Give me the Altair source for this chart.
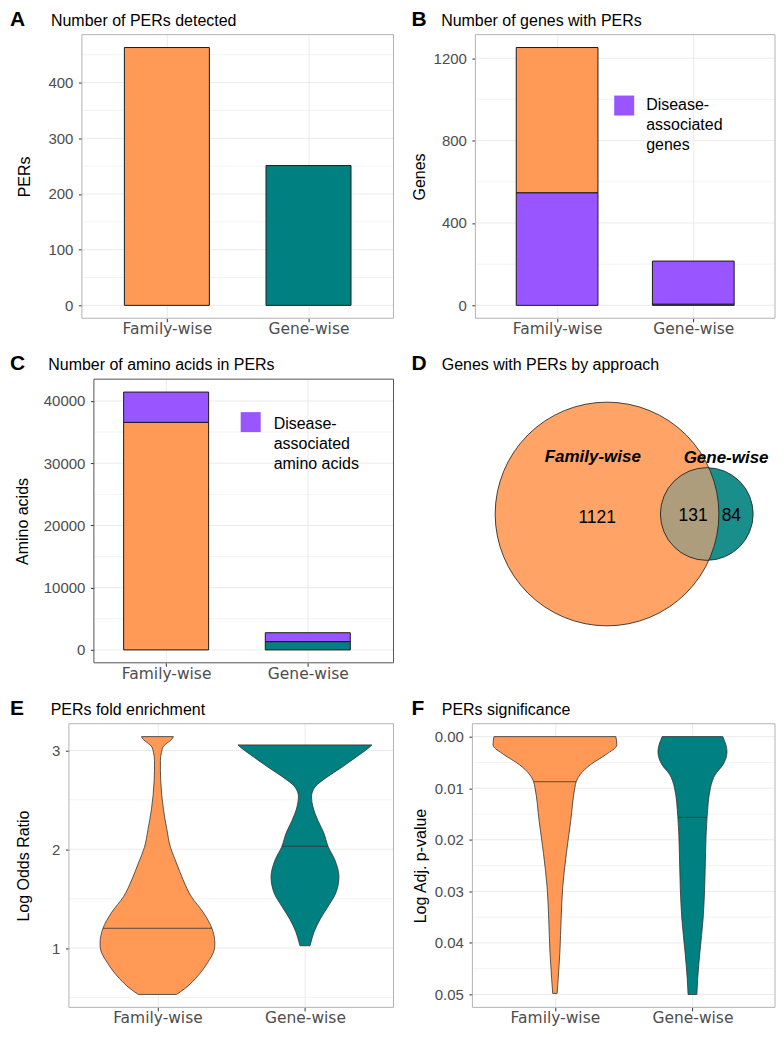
import altair as alt
import numpy as np
import pandas as pd

# ------------------------------------------------------------------ data
approaches = ["Family-wise", "Gene-wise"]
approach_pos = [1, 2]

# A - number of PERs detected
pers_detected = [463, 251]

# B - genes with PERs (stacked bottom -> top)
genes_fam_segments = ["Disease-associated genes", "Family-wise"]
genes_fam_values = [547, 705]
genes_gene_segments = ["Gene-wise", "Disease-associated genes"]
genes_gene_values = [6, 209]
genes_legend_lines = ["Disease-", "associated", "genes"]

# C - amino acids in PERs (stacked bottom -> top)
aa_fam_segments = ["Family-wise", "Disease-associated amino acids"]
aa_fam_values = [36571, 4859]
aa_gene_segments = ["Gene-wise", "Disease-associated amino acids"]
aa_gene_values = [1333, 1429]
aa_legend_lines = ["Disease-", "associated", "amino acids"]

# D - Venn counts
venn_sets = ["Family-wise", "Gene-wise"]
venn_only = [1121, 84]
venn_shared = 131

# E - violin profiles: value and half-width (fraction of category spacing)
e_fam_value = [0.53, 0.59, 0.69, 0.85, 0.99, 1.05, 1.20, 1.36, 1.52, 1.69, 1.86, 2.02,
               2.20, 2.40, 2.55, 2.70, 2.80, 2.90, 2.98, 3.04, 3.08, 3.11, 3.14]
e_fam_halfwidth = [0.129, 0.186, 0.257, 0.339, 0.386, 0.389, 0.369, 0.311, 0.230, 0.174, 0.129, 0.088,
                   0.064, 0.041, 0.029, 0.022, 0.020, 0.020, 0.027, 0.040, 0.070, 0.095, 0.108]
e_gene_value = [1.023, 1.10, 1.16, 1.29, 1.42, 1.56, 1.72, 1.89, 2.03, 2.16, 2.29, 2.43,
                2.53, 2.63, 2.73, 2.83, 2.96, 3.00, 3.056]
e_gene_halfwidth = [0.034, 0.048, 0.061, 0.102, 0.156, 0.210, 0.230, 0.203, 0.156, 0.129, 0.088, 0.054,
                    0.044, 0.068, 0.149, 0.250, 0.372, 0.410, 0.454]
e_median = [1.20, 2.03]
e_median_halfwidth = [0.369, 0.156]

# F - violin profiles
f_fam_value = [0.0, 0.0016, 0.0035, 0.0054, 0.0073, 0.0087, 0.0099, 0.0163, 0.0227,
               0.0291, 0.0354, 0.0418, 0.0469, 0.0498]
f_fam_halfwidth = [0.443, 0.450, 0.370, 0.260, 0.185, 0.155, 0.145, 0.115, 0.083,
                   0.057, 0.045, 0.036, 0.024, 0.016]
f_gene_value = [0.0, 0.0029, 0.0054, 0.0073, 0.0099, 0.0157, 0.0227, 0.0291, 0.0354,
                0.0418, 0.0469, 0.0500]
f_gene_halfwidth = [0.220, 0.251, 0.223, 0.167, 0.131, 0.106, 0.095, 0.089, 0.077,
                    0.054, 0.038, 0.032]
f_median = [0.00875, 0.01565]
f_median_halfwidth = [0.155, 0.106]

# axis ticks
a_ticks, a_minor = [0, 100, 200, 300, 400], [50, 150, 250, 350, 450]
b_ticks, b_minor = [0, 400, 800, 1200], [200, 600, 1000]
c_ticks, c_minor = [0, 10000, 20000, 30000, 40000], [5000, 15000, 25000, 35000]
e_ticks, e_minor = [1, 2, 3], [0.5, 1.5, 2.5]
f_ticks = [0, 0.01, 0.02, 0.03, 0.04, 0.05]
f_minor = [0.005, 0.015, 0.025, 0.035, 0.045]

# ------------------------------------------------------------------ style / layout constants
FONT = "Liberation Sans"
XFONT = "DejaVu Sans"
ORANGE, TEAL, PURPLE = "#FF9955", "#008080", "#9955FF"
V_ORANGE, V_TEAL, V_BOTH = "#FFA366", "#1A8E8A", "#AD9D7D"
GRID = "#EBEBEB"
FRAME = "#B3B3B3"
INK = "#333333"
BAR_HALF = 0.3
PLOT_H = 284
COL_W = [325, 303]          # plot-area width of left / right column
LETTER_X = [-59, -61]       # panel letter offset, left / right column

COLOR_DOMAIN = approaches + ["Disease-associated genes", "Disease-associated amino acids"]
COLOR_RANGE = [ORANGE, TEAL, PURPLE, PURPLE]

label_expr = "[" + ",".join("'%s'" % a for a in approaches) + "][round(datum.value) - 1]"


def color_enc(field):
    return alt.Color(field, type="nominal",
                     scale=alt.Scale(domain=COLOR_DOMAIN, range=COLOR_RANGE), legend=None)


def expand(lo, hi, frac=0.05):
    d = (hi - lo) * frac
    return [lo - d, hi + d]


class Panel:
    """Plot-area geometry: the framed panel may start `inset` px right of the plot-area edge."""

    def __init__(self, frame_dom, width, inset, ydom, ticks, minor, title, tpad,
                 fmt=None, reverse=False, frame_color=FRAME):
        ppu = (width - inset) / (frame_dom[1] - frame_dom[0])
        self.frame_dom = frame_dom
        self.xdom = [frame_dom[0] - inset / ppu, frame_dom[1]]
        self.ydom = ydom
        self.inset = inset
        self.ticks, self.minor = ticks, minor
        self.frame_color = frame_color
        kw = dict(values=ticks, title=title, titlePadding=tpad, grid=False, domain=False,
                  titleBaseline="alphabetic", labelPadding=5.5, offset=-inset)
        if fmt:
            kw["format"] = fmt
        self.yaxis = alt.Axis(**kw)
        sc = dict(domain=ydom, nice=False, zero=False)
        if reverse:
            sc["reverse"] = True
        self.yscale = alt.Scale(**sc)

    def x(self, field, **extra):
        return alt.X(field, type="quantitative",
                     scale=alt.Scale(domain=self.xdom, nice=False, zero=False),
                     axis=alt.Axis(values=approach_pos, labelExpr=label_expr, title=None, grid=True,
                                   domain=False, labelFont=XFONT, labelFontSize=15.5, labelPadding=0,
                                   labelFlush=False, labelOverlap=False, labelAngle=0), **extra)

    def y(self, field):
        return alt.Y(field, type="quantitative", scale=self.yscale, axis=self.yaxis)

    def grid_layers(self):
        fl, fr = self.frame_dom
        maj = pd.DataFrame({"g": self.ticks, "x1": fl, "x2": fr})
        mnr = pd.DataFrame({"g": self.minor, "x1": fl, "x2": fr})
        return [
            alt.Chart(mnr).mark_rule(color=GRID, strokeWidth=0.6).encode(
                y=self.y("g"), x=self.x("x1"), x2="x2"),
            alt.Chart(maj).mark_rule(color=GRID, strokeWidth=1).encode(
                y=self.y("g"), x=self.x("x1"), x2="x2"),
        ]

    def frame_layer(self):
        fr = pd.DataFrame({"x1": [self.frame_dom[0]], "x2": [self.frame_dom[1]],
                           "y1": [self.ydom[0]], "y2": [self.ydom[1]]})
        return alt.Chart(fr).mark_rect(fillOpacity=0, stroke=self.frame_color, strokeWidth=1).encode(
            x=self.x("x1"), x2="x2", y=self.y("y1"), y2="y2")


def header(letter, title, lx, tx, ty=-9):
    d = alt.Data(values=[{"letter": letter, "title": title}])
    L = alt.Chart(d).mark_text(align="left", baseline="alphabetic", fontSize=21, fontWeight="bold",
                               font=FONT, color="black").encode(
        x=alt.value(lx), y=alt.value(ty), text="letter:N")
    T = alt.Chart(d).mark_text(align="left", baseline="alphabetic", fontSize=16,
                               font=FONT, color="black").encode(
        x=alt.value(tx), y=alt.value(ty), text="title:N")
    return [L, T]


def legend_box(lines, sx, sy, tx, ty):
    d = alt.Data(values=[{}])
    sq = alt.Chart(d).mark_point(shape="square", filled=True, size=400, color=PURPLE,
                                 opacity=1, strokeWidth=0).encode(x=alt.value(sx), y=alt.value(sy))
    tx_ = alt.Chart(d).mark_text(text=lines, align="left", baseline="alphabetic", lineHeight=20,
                                 fontSize=16, font=FONT, color="black").encode(
        x=alt.value(tx), y=alt.value(ty))
    return [sq, tx_]


def stacked_table(groups):
    rows = []
    for pos, segs, vals in groups:
        lo = 0
        for s, v in zip(segs, vals):
            rows.append({"pos": pos, "seg": s, "lo": lo, "hi": lo + v,
                         "x1": pos - BAR_HALF, "x2": pos + BAR_HALF})
            lo += v
    return pd.DataFrame(rows)


NOVIEW = alt.ViewBackground(strokeOpacity=0)

# ------------------------------------------------------------------ A
pA = Panel([0.4, 2.6], COL_W[0], 13, expand(0, max(pers_detected)), a_ticks, a_minor, "PERs", 18)
dfA = pd.DataFrame({"approach": approaches, "pos": approach_pos, "n": pers_detected})
dfA["base"] = 0
dfA["x1"] = dfA["pos"] - BAR_HALF
dfA["x2"] = dfA["pos"] + BAR_HALF
barsA = alt.Chart(dfA).mark_rect(stroke="#1A1A1A", strokeWidth=1).encode(
    x=pA.x("x1"), x2="x2", y=pA.y("n"), y2="base", color=color_enc("approach"))
panelA = alt.layer(*pA.grid_layers(), barsA, pA.frame_layer(),
                   *header("A", "Number of PERs detected", LETTER_X[0], -18)).properties(
    width=COL_W[0], height=PLOT_H, view=NOVIEW)

# ------------------------------------------------------------------ B
pB = Panel([0.4, 2.6], COL_W[1], 3, expand(0, max(sum(genes_fam_values), sum(genes_gene_values))),
           b_ticks, b_minor, "Genes", 8.6, fmt="d")
dfB = stacked_table([(1, genes_fam_segments, genes_fam_values), (2, genes_gene_segments, genes_gene_values)])
barsB = alt.Chart(dfB).mark_rect(stroke="#1A1A1A", strokeWidth=1).encode(
    x=pB.x("x1"), x2="x2", y=pB.y("lo"), y2="hi", color=color_enc("seg"))
panelB = alt.layer(*pB.grid_layers(), barsB, pB.frame_layer(),
                   *legend_box(genes_legend_lines, 152, 71, 174, 75.3),
                   *header("B", "Number of genes with PERs", LETTER_X[1], -31.3)).properties(
    width=COL_W[1], height=PLOT_H, view=NOVIEW)

# ------------------------------------------------------------------ C
pC = Panel([0.49, 2.605], COL_W[0], 25, expand(0, max(sum(aa_fam_values), sum(aa_gene_values))),
           c_ticks, c_minor, "Amino acids", 15.3, fmt="d", frame_color="#555555")
dfC = stacked_table([(1, aa_fam_segments, aa_fam_values), (2, aa_gene_segments, aa_gene_values)])
barsC = alt.Chart(dfC).mark_rect(stroke="#1A1A1A", strokeWidth=1).encode(
    x=pC.x("x1"), x2="x2", y=pC.y("lo"), y2="hi", color=color_enc("seg"))
panelC = alt.layer(*pC.grid_layers(), barsC, pC.frame_layer(),
                   *legend_box(aa_legend_lines, 182, 43, 205, 50.3),
                   *header("C", "Number of amino acids in PERs", LETTER_X[0], -20.7)).properties(
    width=COL_W[0], height=PLOT_H, view=NOVIEW)

# ------------------------------------------------------------------ D (Venn)
VW, VH = COL_W[1], PLOT_H
venn_layout = {"k": 3.1653, "cx": [134.8, 234.7], "cy": 135.0,
               "name_xy": [(120.5, 83.0), (254.0, 83.7)],
               "count_xy": [(125.0, 144.0), (259.3, 142.0)], "shared_xy": (221.0, 142.0)}
totals = [venn_only[0] + venn_shared, venn_only[1] + venn_shared]
radii = [venn_layout["k"] * np.sqrt(t) for t in totals]
circ = pd.DataFrame({"set": venn_sets, "cx": venn_layout["cx"], "cy": [venn_layout["cy"]] * 2,
                     "s": [(2 * r) ** 2 for r in radii]})
vx = alt.Scale(domain=[0, VW], nice=False, zero=False)
vy = alt.Scale(domain=[0, VH], nice=False, zero=False, reverse=True)

# lens (intersection) boundary from circle geometry
(c1, c2), (R1, R2) = venn_layout["cx"], radii
dd = c2 - c1
aa = (dd ** 2 + R1 ** 2 - R2 ** 2) / (2 * dd)
hh = np.sqrt(max(R1 ** 2 - aa ** 2, 0))
ts = np.linspace(-hh, hh, 161)
lens = pd.DataFrame({"y": venn_layout["cy"] + ts,
                     "xl": c2 - np.sqrt(np.clip(R2 ** 2 - ts ** 2, 0, None)),
                     "xr": c1 + np.sqrt(np.clip(R1 ** 2 - ts ** 2, 0, None))})


def vpt():
    return dict(x=alt.X("cx:Q", scale=vx, axis=None), y=alt.Y("cy:Q", scale=vy, axis=None),
                size=alt.Size("s:Q", scale=None))


big = alt.Chart(circ.iloc[[0]]).mark_point(shape="circle", filled=True, color=V_ORANGE, opacity=1,
                                           strokeWidth=0).encode(**vpt())
small = alt.Chart(circ.iloc[[1]]).mark_point(shape="circle", filled=True, color=V_TEAL, opacity=1,
                                             strokeWidth=0).encode(**vpt())
lens_area = alt.Chart(lens).mark_area(orient="horizontal", color=V_BOTH, opacity=1).encode(
    y=alt.Y("y:Q", scale=vy, axis=None), x=alt.X("xl:Q", scale=vx, axis=None, stack=None), x2="xr")
outlines = alt.Chart(circ).mark_point(shape="circle", filled=False, stroke="#1A1A1A", strokeWidth=0.8,
                                      opacity=1).encode(**vpt())
names = pd.DataFrame({"t": venn_sets, "x": [p[0] for p in venn_layout["name_xy"]],
                      "y": [p[1] for p in venn_layout["name_xy"]]})
counts = pd.DataFrame({"t": [str(venn_only[0]), str(venn_shared), str(venn_only[1])],
                       "x": [venn_layout["count_xy"][0][0], venn_layout["shared_xy"][0], venn_layout["count_xy"][1][0]],
                       "y": [venn_layout["count_xy"][0][1], venn_layout["shared_xy"][1], venn_layout["count_xy"][1][1]]})
name_txt = alt.Chart(names).mark_text(font=FONT, fontSize=17, fontWeight="bold", fontStyle="italic",
                                      baseline="alphabetic", align="center", color="black").encode(
    x=alt.X("x:Q", scale=vx, axis=None), y=alt.Y("y:Q", scale=vy, axis=None), text="t:N")
count_txt = alt.Chart(counts).mark_text(font=FONT, fontSize=17.5, baseline="alphabetic", align="center",
                                        color="black").encode(
    x=alt.X("x:Q", scale=vx, axis=None), y=alt.Y("y:Q", scale=vy, axis=None), text="t:N")
panelD = alt.layer(big, small, lens_area, outlines, name_txt, count_txt,
                   *header("D", "Genes with PERs by approach", LETTER_X[1], -30.7)).properties(
    width=VW, height=VH, view=NOVIEW)


# ------------------------------------------------------------------ violins
def violin_table(profiles):
    rows = []
    for grp, pos, vs, ws in profiles:
        for v, w in zip(vs, ws):
            rows.append({"grp": grp, "v": v, "xl": pos - w, "xr": pos + w})
    return pd.DataFrame(rows)


def violin_panel(p, df, med, letter, title, lx, tx, width):
    area = alt.Chart(df).mark_area(orient="horizontal", stroke=INK, strokeWidth=0.8,
                                   interpolate="monotone", opacity=1).encode(
        y=p.y("v"), x=p.x("xl", stack=None), x2="xr", color=color_enc("grp"))
    medl = alt.Chart(med).mark_rule(color=INK, strokeWidth=0.8).encode(
        y=p.y("m"), x=p.x("xl"), x2="xr")
    return alt.layer(*p.grid_layers(), area, medl, p.frame_layer(),
                     *header(letter, title, lx, tx)).properties(width=width, height=PLOT_H, view=NOVIEW)


dfE = violin_table([(approaches[0], 1, e_fam_value, e_fam_halfwidth),
                    (approaches[1], 2, e_gene_value, e_gene_halfwidth)])
medE = pd.DataFrame({"m": e_median, "xl": [p - w for p, w in zip(approach_pos, e_median_halfwidth)],
                     "xr": [p + w for p, w in zip(approach_pos, e_median_halfwidth)]})
pE = Panel([0.4, 2.6], COL_W[0], 0,
           expand(min(e_fam_value + e_gene_value), max(e_fam_value + e_gene_value)),
           e_ticks, e_minor, "Log Odds Ratio", 23.4)
panelE = violin_panel(pE, dfE, medE, "E", "PERs fold enrichment", LETTER_X[0], -18.3, COL_W[0])

dfF = violin_table([(approaches[0], 1, f_fam_value, f_fam_halfwidth),
                    (approaches[1], 2, f_gene_value, f_gene_halfwidth)])
medF = pd.DataFrame({"m": f_median, "xl": [p - w for p, w in zip(approach_pos, f_median_halfwidth)],
                     "xr": [p + w for p, w in zip(approach_pos, f_median_halfwidth)]})
pF = Panel([0.4, 2.6], COL_W[1], 0, expand(0, max(f_fam_value + f_gene_value)), f_ticks, f_minor,
           "Log Adj. p-value", 9.1, fmt=".2f", reverse=True)
panelF = violin_panel(pF, dfF, medF, "F", "PERs significance", LETTER_X[1], -30.7, COL_W[1])

# ------------------------------------------------------------------ layout
chart = alt.concat(panelA, panelB, panelC, panelD, panelE, panelF, columns=2, align="each",
                   spacing={"row": 16, "column": 17}, bounds="full").properties(
    padding={"left": 2, "top": 0, "right": 0, "bottom": 0}
).configure(font=FONT).configure_axis(
    labelFont=FONT, labelFontSize=15, labelColor="#4D4D4D",
    titleFont=FONT, titleFontSize=16, titleFontWeight="normal", titleColor="black",
    tickColor="#333333", tickSize=3.5, tickWidth=1, gridColor=GRID, gridWidth=1, domain=False
)

chart.save("out.html", embed_options={"renderer": "svg", "actions": False})
